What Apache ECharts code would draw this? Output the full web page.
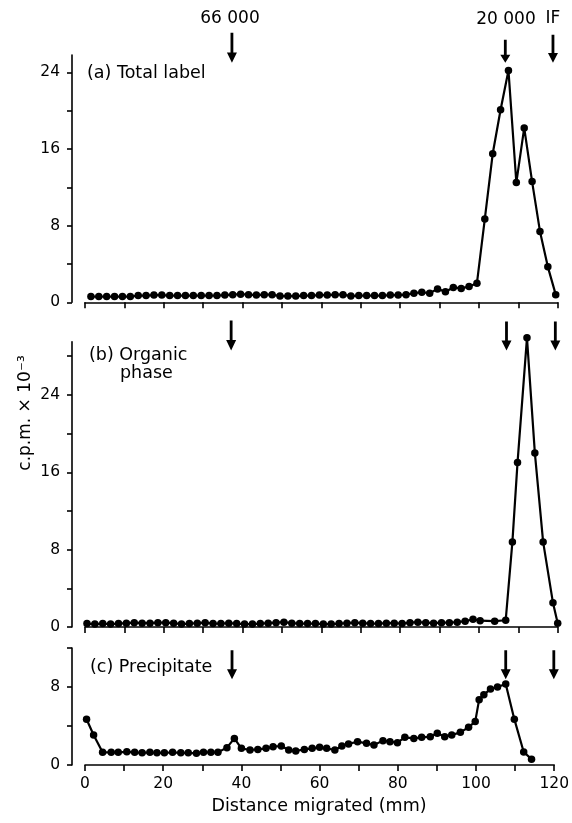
<!DOCTYPE html>
<html><head><meta charset="utf-8">
<script src="https://cdn.jsdelivr.net/npm/echarts@6/dist/echarts.min.js"></script>
<style>html,body{margin:0;padding:0;background:#fff}#c{width:572px;height:823px}</style>
</head><body><div id="c"></div>
<script>
// ---- data ----
const distA = [1.5,3.5,5.5,7.5,9.5,11.5,13.5,15.5,17.5,19.5,21.5,23.5,25.5,27.5,29.5,31.5,33.5,35.5,37.5,39.5,41.5,43.5,45.5,47.5,49.5,51.5,53.5,55.5,57.5,59.5,61.5,63.5,65.5,67.5,69.5,71.5,73.5,75.5,77.5,79.5,81.5,83.5,85.5,87.5,89.5,91.5,93.5,95.5,97.5,99.5,101.5,103.5,105.5,107.5,109.5,111.5,113.5,115.5,117.5,119.5];
const totalLabel = [0.6,0.6,0.6,0.6,0.6,0.6,0.7,0.7,0.75,0.75,0.7,0.7,0.7,0.7,0.7,0.7,0.7,0.75,0.8,0.85,0.8,0.75,0.8,0.8,0.65,0.65,0.65,0.7,0.7,0.75,0.75,0.8,0.8,0.65,0.7,0.7,0.7,0.7,0.75,0.75,0.8,0.95,1.05,0.95,1.4,1.1,1.55,1.45,1.65,2.0,8.7,15.5,20.1,24.2,12.5,18.2,12.6,7.4,3.7,0.8];

const distB = [0.5,2.5,4.5,6.5,8.5,10.5,12.5,14.5,16.5,18.5,20.5,22.5,24.5,26.5,28.5,30.5,32.5,34.5,36.5,38.5,40.5,42.5,44.5,46.5,48.5,50.5,52.5,54.5,56.5,58.5,60.5,62.5,64.5,66.5,68.5,70.5,72.5,74.5,76.5,78.5,80.5,82.5,84.5,86.5,88.5,90.5,92.5,94.5,96.5,98.5,100.3,104,106.8,108.5,109.8,112.2,114.2,116.3,118.8,120];
const organicPhase = [0.35,0.3,0.35,0.3,0.35,0.4,0.45,0.4,0.4,0.45,0.45,0.4,0.3,0.35,0.4,0.45,0.35,0.35,0.4,0.35,0.3,0.3,0.35,0.4,0.45,0.5,0.4,0.35,0.35,0.35,0.3,0.3,0.35,0.4,0.45,0.4,0.35,0.35,0.4,0.4,0.35,0.45,0.5,0.45,0.4,0.45,0.45,0.5,0.6,0.8,0.65,0.6,0.7,8.8,17.0,29.9,18.0,8.8,2.5,0.4];

const distC = [0.4,2.2,4.5,6.7,8.5,10.7,12.7,14.6,16.6,18.4,20.3,22.4,24.5,26.4,28.5,30.3,32.2,34,36.3,38.2,40,42.2,44.2,46.3,48.1,50.2,52.1,53.9,56.1,58.1,60,61.8,63.9,65.7,67.4,69.7,72,73.9,76.2,78,79.9,81.8,84.1,86.1,88.3,90.1,92,93.8,96,98.1,99.8,100.8,102,103.7,105.5,107.6,109.8,112.2,114.2];
const precipitate = [4.69,3.08,1.3,1.3,1.3,1.35,1.3,1.25,1.3,1.25,1.25,1.3,1.25,1.25,1.2,1.3,1.3,1.3,1.78,2.73,1.71,1.54,1.6,1.71,1.88,1.95,1.54,1.44,1.6,1.71,1.81,1.71,1.54,1.95,2.16,2.39,2.22,2.05,2.5,2.39,2.29,2.84,2.73,2.84,2.9,3.25,2.9,3.08,3.35,3.87,4.45,6.7,7.2,7.8,8.0,8.3,4.7,1.33,0.6];

// marker arrows (distance, tip value)
const arrowsA = [[37.3,25.0],[106.7,25.0],[118.8,25.0]];
const arrowsB = [[37.1,28.6],[107.0,28.6],[119.4,28.6]];
const arrowsC = [[37.6,8.8],[107.6,8.8],[119.9,8.8]];
const markerNames = ['66 000','20 000','IF'];

const xTicks = [0,10,20,30,40,50,60,70,80,90,100,110,120];
const xLabels = [0,20,40,60,80,100,120];
const yTicksA = [0,4,8,12,16,20,24], yLabelsA = [0,8,16,24];
const yTicksB = [0,4,8,12,16,20,24,28], yLabelsB = [0,8,16,24];
const yTicksC = [0,4,8,12], yLabelsC = [0,8];

// ---- chart ----
const FONT = "'DejaVu Sans', sans-serif";
const zip = (xs, ys) => xs.map((x, i) => [x, ys[i]]);
const chart = echarts.init(document.getElementById('c'), null, {renderer: 'canvas'});

const grids = [
  {left: 85, right: 14.3, top: 55.1, height: 247.2},
  {left: 85, right: 14.3, top: 341.7, height: 285.3},
  {left: 85, right: 14.3, top: 648, height: 117}
];
const yMax = [25.8, 29.5, 12];
const yT = [yTicksA, yTicksB, yTicksC];
const yL = [yLabelsA, yLabelsB, yLabelsC];

const xAxes = grids.map((g, i) => ({
  type: 'value', gridIndex: i, min: 0, max: 120, interval: 10,
  axisLine: {show: true, lineStyle: {color: '#000', width: 1.6}},
  axisTick: {show: true, length: 6, inside: false, customValues: xTicks, lineStyle: {color: '#000', width: 1.6}},
  axisLabel: {show: i === 2, customValues: xLabels, margin: 11, color: '#000', fontSize: 15.5, fontFamily: FONT},
  splitLine: {show: false}
}));
const yAxes = grids.map((g, i) => ({
  type: 'value', gridIndex: i, min: 0, max: yMax[i], offset: 13,
  axisLine: {show: true, onZero: false, lineStyle: {color: '#000', width: 1.6}},
  axisTick: {show: true, length: 5, customValues: yT[i], lineStyle: {color: '#000', width: 1.6}},
  axisLabel: {show: true, customValues: yL[i], margin: 12, color: '#000', fontSize: 15.5, fontFamily: FONT},
  splitLine: {show: false}
}));

const lineSeries = (data, i) => ({
  type: 'line', xAxisIndex: i, yAxisIndex: i, data: data,
  symbol: 'circle', symbolSize: 7.5, showSymbol: true, clip: false,
  lineStyle: {color: '#000', width: 2.2}, itemStyle: {color: '#000', opacity: 1},
  animation: false, silent: true
});
const ARROW = 'path://M3.6,0 L6.4,0 L6.4,19 L10,19 L5,29 L0,19 L3.6,19 Z';
const arrowSeries = (data, i, sizes) => ({
  type: 'scatter', xAxisIndex: i, yAxisIndex: i, clip: false,
  data: data.map((d, k) => ({value: d, symbolSize: sizes[k]})),
  symbol: ARROW, symbolOffset: [0, '-50%'],
  itemStyle: {color: '#000', opacity: 1}, animation: false, silent: true, z: 5
});

chart.setOption({
  backgroundColor: '#fff',
  animation: false,
  grid: grids,
  xAxis: xAxes,
  yAxis: yAxes,
  series: [
    lineSeries(zip(distA, totalLabel), 0),
    lineSeries(zip(distB, organicPhase), 1),
    lineSeries(zip(distC, precipitate), 2),
    arrowSeries(arrowsA, 0, [[10,30],[10,23],[10,28]]),
    arrowSeries(arrowsB, 1, [[10,30],[10,29],[10,29]]),
    arrowSeries(arrowsC, 2, [[10,29],[10,29],[10,29]])
  ],
  graphic: [
    {type: 'text', x: 230, y: 19, style: {text: markerNames[0], font: '17px ' + FONT, fill: '#000', textAlign: 'center', textVerticalAlign: 'middle'}},
    {type: 'text', x: 506, y: 20, style: {text: markerNames[1], font: '17px ' + FONT, fill: '#000', textAlign: 'center', textVerticalAlign: 'middle'}},
    {type: 'text', x: 553, y: 19, style: {text: markerNames[2], font: '17px ' + FONT, fill: '#000', textAlign: 'center', textVerticalAlign: 'middle'}},
    {type: 'text', x: 87, y: 73, style: {text: '(a) Total label', font: '17.5px ' + FONT, fill: '#000', textAlign: 'left', textVerticalAlign: 'middle'}},
    {type: 'text', x: 89, y: 355, style: {text: '(b) Organic', font: '17.5px ' + FONT, fill: '#000', textAlign: 'left', textVerticalAlign: 'middle'}},
    {type: 'text', x: 120, y: 373, style: {text: 'phase', font: '17.5px ' + FONT, fill: '#000', textAlign: 'left', textVerticalAlign: 'middle'}},
    {type: 'text', x: 90, y: 667, style: {text: '(c) Precipitate', font: '17.5px ' + FONT, fill: '#000', textAlign: 'left', textVerticalAlign: 'middle'}},
    {type: 'text', x: 319, y: 806, style: {text: 'Distance migrated (mm)', font: '17.5px ' + FONT, fill: '#000', textAlign: 'center', textVerticalAlign: 'middle'}},
    {type: 'text', x: 26, y: 413, rotation: Math.PI / 2, style: {text: 'c.p.m. × 10⁻³', font: '17px ' + FONT, fill: '#000', textAlign: 'center', textVerticalAlign: 'middle'}}
  ]
});
</script>
</body></html>
